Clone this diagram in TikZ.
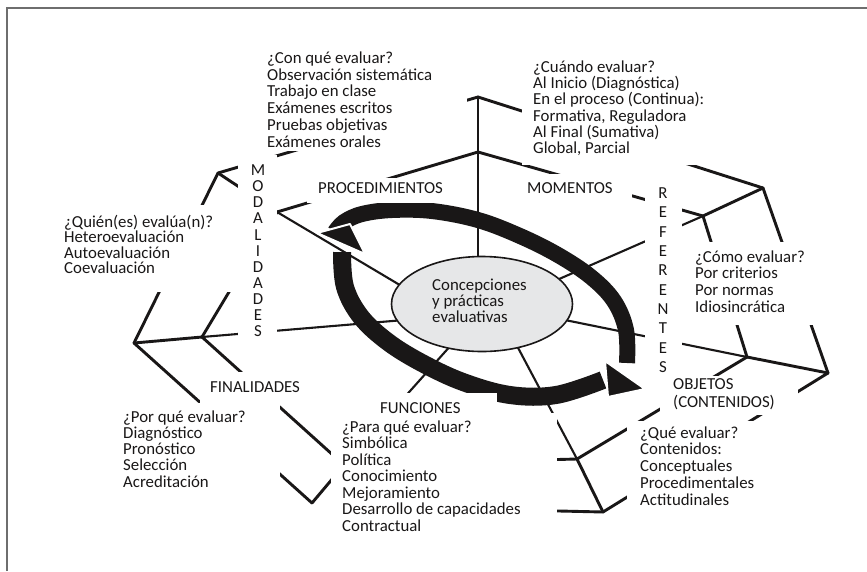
\documentclass[tikz,border=0pt]{standalone}
\usepackage{fontspec}
\setmainfont{Carlito}
\usetikzlibrary{shapes.geometric}
\definecolor{ink}{RGB}{25,23,23}
\definecolor{fillgray}{RGB}{230,231,232}
\definecolor{framegray}{RGB}{110,110,110}
\newcommand\firststrut{\rule{0pt}{12.5pt}}
\begin{document}
\begin{tikzpicture}[x=1pt,y=-1pt,
  web/.style={draw=ink,line width=2.9pt,line cap=round},
  spoke/.style={draw=ink,line width=2.1pt},
  mask/.style={fill=white},
  lbl/.style={anchor=north west,inner sep=0pt,align=left,text=ink},
  col/.style={anchor=north,inner sep=0pt,align=center,text=ink},
  head/.style={fill=ink,draw=white,line width=2pt,line join=round}
]
\useasboundingbox (0,0) rectangle (867,571);
\fill[white] (0,0) rectangle (867,571);
\draw[framegray,line width=1.6pt] (7,571) -- (7,8) -- (867,8);

% web vertices
\coordinate (T1) at (478,152);
\coordinate (C) at (703,216);
\coordinate (D) at (747,357);
\coordinate (LR1) at (577,459);
\coordinate (LL1) at (344,465);
\coordinate (B) at (202,337);
\coordinate (K) at (277,212);
\coordinate (T2) at (478,97);
\coordinate (UR2) at (763,188);
\coordinate (E) at (828,373);
\coordinate (LR2) at (603,512);
\coordinate (LL2) at (312,503);
\coordinate (A) at (134,343);
\coordinate (J1) at (218,173);
\coordinate (LR2end) at (340,506);

% spokes
\draw[spoke] (478,290) -- (T1);
\draw[web] (T1) -- (T2);
\draw[spoke] (550,283) -- (C);
\draw[web] (C) -- (UR2);
\draw[spoke] (560,319) -- (D);
\draw[web] (D) -- (E);
\draw[spoke] (498,310) -- (LR1);
\draw[web] (LR1) -- (LR2);
\draw[spoke] (469,325) -- (LL1);
\draw[web] (LL1) -- (LL2);
\draw[spoke] (440,317) -- (B);
\draw[web] (B) -- (A);
\draw[spoke] (420,297) -- (K);
\draw[web] (K) -- (J1);
% inner ring
\draw[web] (T1) -- (C);
\draw[web] (C) -- (D);
\draw[web] (D) -- (LR1);
\draw[web] (LR1) -- (LL1);
\draw[web] (LL1) -- (B);
\draw[web] (B) -- (K);
\draw[web] (K) -- (T1);
% outer ring
\draw[web] (T2) -- (UR2);
\draw[web] (UR2) -- (E);
\draw[web] (E) -- (LR2);
\draw[web] (LR2) -- (LR2end);
\draw[web] (LL2) -- (A);
\draw[web] (A) -- (J1);
\draw[web] (J1) -- (T2);

% central ellipse
\node[ellipse,draw=ink,fill=fillgray,line width=1.6pt,minimum width=181pt,minimum height=95pt,inner sep=0pt] (core) at (482,304) {};

% cycle arrow
\draw[ink,line width=16pt] plot[smooth,tension=0.6] coordinates {(627,363) (626,330) (614,301) (591,277) (558,255) (520,236) (478,220) (432,211) (392,210) (362,214) (344,222) (335,232)};
\draw[ink,line width=18pt] plot[smooth,tension=0.6] coordinates {(342,252) (345,287) (361,317) (388,342) (422,363) (463,382) (510,395) (556,395) (603,380)};
\path[head] (317,233) -- (350,224) -- (365,254) -- cycle;
\path[head] (605,361) -- (645,389) -- (608,397) -- cycle;

% label backgrounds
\fill[mask] (258,44) rectangle (467,151);
\fill[mask] (522,52) rectangle (715,165);
\fill[mask] (307,178) rectangle (448,203);
\fill[mask] (522,174) rectangle (632,201);
\fill[mask] (238,155) rectangle (277,345);
\fill[mask] (55,205) rectangle (240,292);
\fill[mask] (645,180) rectangle (682,380);
\fill[mask] (688,242) rectangle (815,325);
\fill[mask] (660,376) rectangle (798,415);
\fill[mask] (627,421) rectangle (790,512);
\fill[mask] (200,372) rectangle (305,405);
\fill[mask] (115,403) rectangle (280,495);
\fill[mask] (331,393) rectangle (497,415);
\fill[mask] (331,413) rectangle (557,540);

% texts
\node[lbl,font=\fontsize{16.8}{16.8}\selectfont] (con) at (267,50.5) {\firststrut ¿Con qué evaluar?\\Observación sistemática\\Trabajo en clase\\Exámenes escritos\\Pruebas objetivas\\Exámenes orales};
\node[lbl,font=\fontsize{16.8}{16.3}\selectfont] (cuando) at (533,59.5) {\firststrut ¿Cuándo evaluar?\\Al Inicio (Diagnóstica)\\En el proceso (Continua):\\Formativa, Reguladora\\Al Final (Sumativa)\\Global, Parcial};
\node[lbl,font=\fontsize{16.8}{16.8}\selectfont] (proc) at (318,180.9) {\firststrut PROCEDIMIENTOS};
\node[lbl,font=\fontsize{16.8}{16.8}\selectfont] (mom) at (527,180.9) {\firststrut MOMENTOS};
\node[col,font=\fontsize{16.8}{16.1}\selectfont] (modal) at (258,162.9) {\firststrut M\\O\\D\\A\\L\\I\\D\\A\\D\\E\\S};
\node[col,font=\fontsize{16.8}{19.3}\selectfont] (refer) at (663,185.9) {\firststrut R\\E\\F\\E\\R\\E\\N\\T\\E\\S};
\node[lbl,font=\fontsize{16.8}{15.5}\selectfont] (quien) at (64,214.5) {\firststrut ¿Quién(es) evalúa(n)?\\Heteroevaluación\\Autoevaluación\\Coevaluación};
\node[lbl,font=\fontsize{16.8}{16.7}\selectfont] (como) at (695,249.5) {\firststrut ¿Cómo evaluar?\\Por criterios\\Por normas\\Idiosincrática};
\node[lbl,font=\fontsize{16.8}{16.8}\selectfont] (final) at (210,379.9) {\firststrut FINALIDADES};
\node[lbl,font=\fontsize{16.8}{16.25}\selectfont] (porque) at (123,409.5) {\firststrut ¿Por qué evaluar?\\Diagnóstico\\Pronóstico\\Selección\\Acreditación};
\node[lbl,font=\fontsize{16.8}{16.8}\selectfont] (func) at (380,400.9) {\firststrut FUNCIONES};
\node[lbl,font=\fontsize{16.8}{16.5}\selectfont] (paraque) at (342,419.5) {\firststrut ¿Para qué evaluar?\\Simbólica\\Política\\Conocimiento\\Mejoramiento\\Desarrollo de capacidades\\Contractual};
\node[lbl,font=\fontsize{16.8}{17.5}\selectfont] (obj) at (673,376.9) {\firststrut OBJETOS\\(CONTENIDOS)};
\node[lbl,font=\fontsize{16.8}{16.7}\selectfont] (que) at (640,425.5) {\firststrut ¿Qué evaluar?\\Contenidos:\\Conceptuales\\Procedimentales\\Actitudinales};
\node[lbl,font=\fontsize{16.8}{16.3}\selectfont] (coretext) at (432,277.5) {\firststrut Concepciones\\y prácticas\\evaluativas};
\end{tikzpicture}
\end{document}
